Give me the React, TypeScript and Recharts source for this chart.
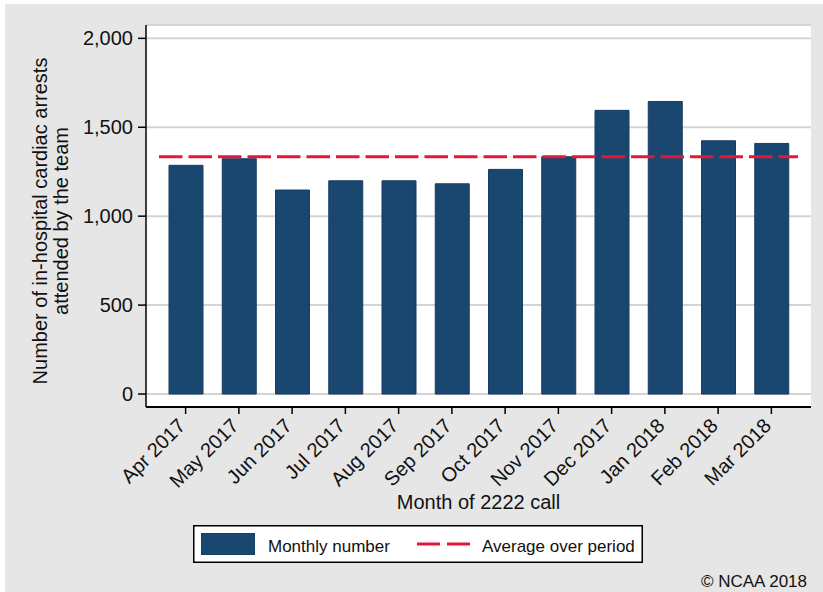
import { ComposedChart, Bar, XAxis, YAxis, CartesianGrid, ReferenceLine, Legend, Label } from 'recharts';

const months = [
  'Apr 2017', 'May 2017', 'Jun 2017', 'Jul 2017', 'Aug 2017', 'Sep 2017',
  'Oct 2017', 'Nov 2017', 'Dec 2017', 'Jan 2018', 'Feb 2018', 'Mar 2018',
];
const monthlyNumber = [1286, 1323, 1147, 1199, 1199, 1182, 1263, 1334, 1595, 1645, 1424, 1409];
const yTicks = [0, 500, 1000, 1500, 2000];
const averageOverPeriod = 1334;

const data = months.map((month, i) => ({ month, value: monthlyNumber[i], pos: i + 1 }));

const font = '"Liberation Sans", Arial, Helvetica, sans-serif';
const navy = '#1a476f';
const red = '#e2183a';

const MonthTick = ({ x, y, payload }: any) => {
  const tx = x + 1;
  const ty = y + 13;
  return (
    <text x={tx} y={ty} transform={`rotate(-45, ${tx}, ${ty})`} textAnchor="end"
      fontSize={20} fontFamily={font} fill="#111">
      {payload.value}
    </text>
  );
};

const XTitle = ({ viewBox }: any) => (
  <text x={viewBox.x + viewBox.width / 2} y={505} textAnchor="middle"
    fontSize={20} fontFamily={font} fill="#111">
    Month of 2222 call
  </text>
);

const YTitle = () => (
  <g fontSize={20} fontFamily={font} fill="#111" textAnchor="middle">
    <text x={42} y={217} transform="rotate(-90, 42, 217)">Number of in-hospital cardiac arrests</text>
    <text x={63} y={217} transform="rotate(-90, 63, 217)">attended by the team</text>
  </g>
);

const LegendBox = () => (
  <svg width={450} height={38} style={{ display: 'block' }}>
    <rect x={0.75} y={0.75} width={448.5} height={36.5} fill="#fff" stroke="#000" strokeWidth={1.5} />
    <rect x={8.5} y={8.5} width={53} height={21} fill={navy} stroke="#143d62" strokeWidth={1} />
    <text x={75} y={27} fontSize={17} fontFamily={font} fill="#111">Monthly number</text>
    <line x1={224} x2={277} y1={19} y2={19} stroke={red} strokeWidth={3} strokeDasharray="23 7" />
    <text x={289} y={27} fontSize={17} fontFamily={font} fill="#111">Average over period</text>
  </svg>
);

export default function App() {
  return (
    <div style={{ position: 'absolute', left: 5, top: 4, width: 818, height: 588, background: '#e6e6e6' }}>
      <ComposedChart width={818} height={588} data={data} margin={{ top: 21, right: 12, left: 0, bottom: 0 }}>
        <CartesianGrid vertical={false} stroke="#d4d4d4" strokeWidth={2} fill="#fff" fillOpacity={1} />
        <XAxis dataKey="month" type="category" height={185} interval={0}
          padding={{ left: 13, right: 13 }} tickSize={7} tickMargin={0}
          axisLine={{ stroke: '#000', strokeWidth: 2 }} tickLine={{ stroke: '#000', strokeWidth: 1.5 }}
          tick={<MonthTick />} label={<Label content={XTitle} />} />
        <XAxis xAxisId="pos" dataKey="pos" type="number" domain={[0.5, 12.5]}
          padding={{ left: 13, right: 13 }} allowDataOverflow hide />
        <YAxis width={141} domain={[-73, 2075]} ticks={yTicks} allowDataOverflow
          tickSize={8} tickMargin={5} tickFormatter={(v: number) => v.toLocaleString('en-US')}
          axisLine={{ stroke: '#000', strokeWidth: 1.5 }} tickLine={{ stroke: '#000', strokeWidth: 1.5 }}
          tick={{ fill: '#111', fontSize: 20, fontFamily: font }} label={<Label content={YTitle} />} />
        <Bar dataKey="value" fill={navy} stroke="#143d62" strokeWidth={1} barSize={34} isAnimationActive={false} />
        <ReferenceLine xAxisId="pos" segment={[{ x: 0.5, y: averageOverPeriod }, { x: 12.5, y: averageOverPeriod }]}
          stroke={red} strokeWidth={3} strokeDasharray="23.5 6" />
        <Legend verticalAlign="middle" align="center" content={<LegendBox />}
          wrapperStyle={{ left: 188, top: 521, width: 450, height: 38 }} />
      </ComposedChart>
      <svg width={170} height={30} style={{ position: 'absolute', left: 650, top: 560 }}>
        <text x={152} y={23} textAnchor="end" fontSize={17} fontFamily={font} fill="#111">© NCAA 2018</text>
      </svg>
    </div>
  );
}
